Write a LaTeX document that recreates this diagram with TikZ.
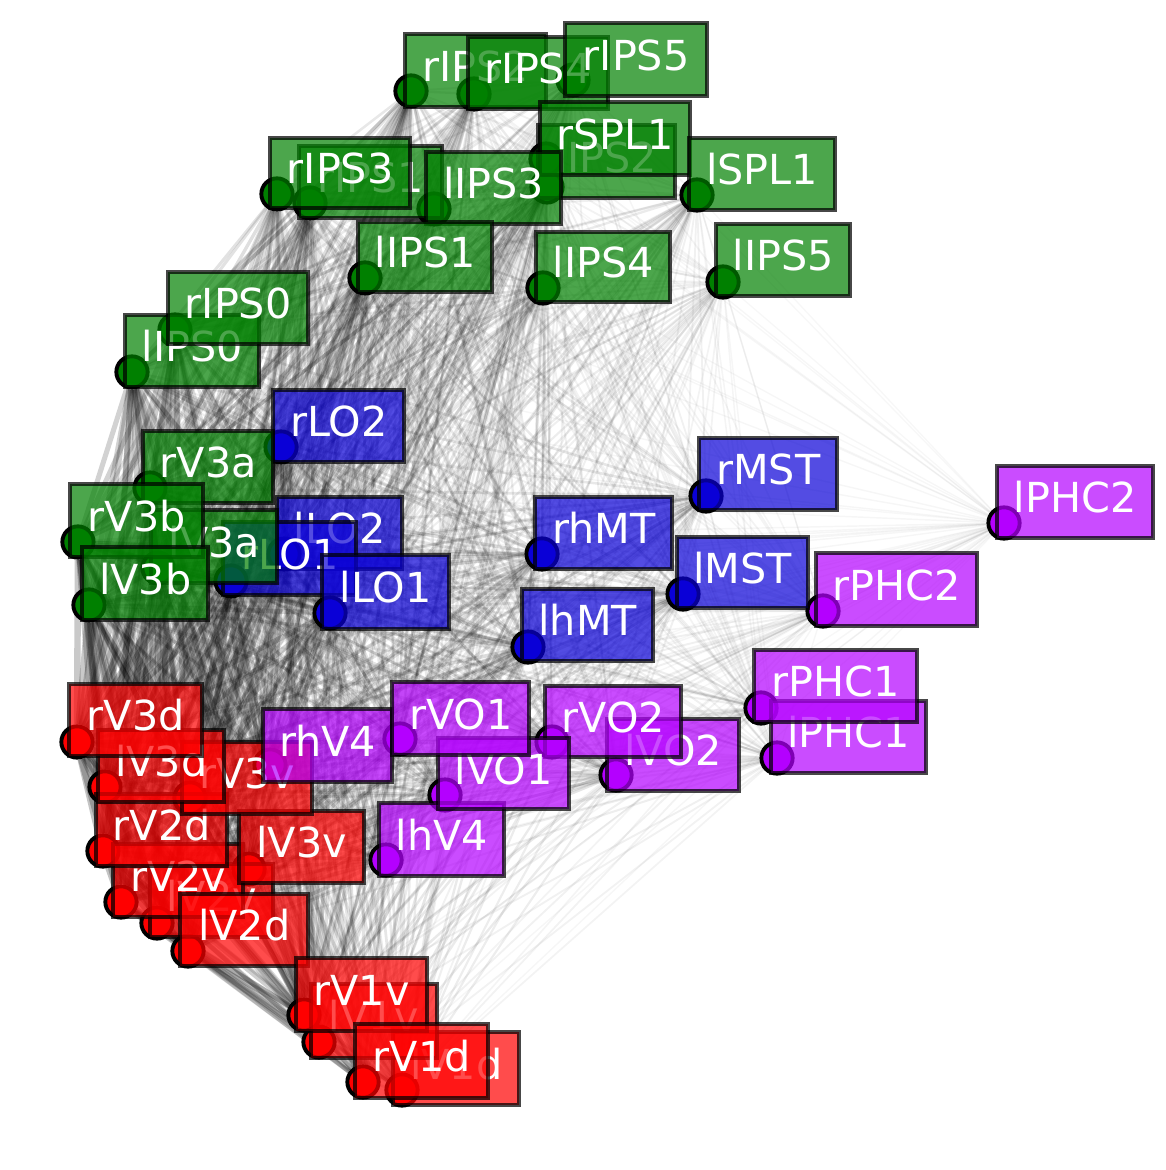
\documentclass[tikz,border=0pt]{standalone}
\usepackage{fontspec}
\setmainfont{DejaVu Sans}
\usepackage{tikz}
\usetikzlibrary{backgrounds}
\definecolor{RoiGreen}{RGB}{0,128,0}
\definecolor{RoiBlue}{RGB}{10,0,215}
\definecolor{RoiPurple}{RGB}{180,0,255}
\definecolor{RoiRed}{RGB}{255,0,0}
% name/colour/box left/box top/box right/box bottom/dot x/dot y, lowest first
\def\roilist{%
rIPS2/RoiGreen/404/33/546/107/411/91,rIPS4/RoiGreen/467/36/608/109/474/94,
rIPS5/RoiGreen/564/22/707/96/573/80,lIPS2/RoiGreen/537/124/675/198/547/187,
rSPL1/RoiGreen/539/101/690/175/546/159,lSPL1/RoiGreen/688/137/835/210/697/195,
rIPS1/RoiGreen/298/145/442/218/310/203,rIPS3/RoiGreen/269/137/410/208/277/194,
lIPS3/RoiGreen/425/151/561/224/434/209,lIPS1/RoiGreen/357/221/492/292/365/278,
lIPS4/RoiGreen/535/231/670/302/543/288,lIPS5/RoiGreen/715/223/850/296/723/282,
lIPS0/RoiGreen/124/314/259/387/132/372,rIPS0/RoiGreen/167/271/308/344/175/330,
lLO2/RoiBlue/276/496/402/569/284/554,rLO2/RoiBlue/272/389/404/462/281/447,
rLO1/RoiBlue/222/521/356/595/231/581,lLO1/RoiBlue/321/554/449/629/330/613,
lV3a/RoiGreen/150/509/277/583/158/568,rV3a/RoiGreen/142/430/273/503/150/488,
rV3b/RoiGreen/69/483/203/557/78/542,lV3b/RoiGreen/81/546/208/620/89/605,
rMST/RoiBlue/698/437/837/510/706/496,rhMT/RoiBlue/534/496/672/569/542/554,
lMST/RoiBlue/676/536/808/608/683/594,lhMT/RoiBlue/521/588/653/661/528/647,
lPHC2/RoiPurple/996/465/1153/538/1004/523,rPHC2/RoiPurple/815/552/977/626/823/611,
lPHC1/RoiPurple/770/700/926/773/777/758,rPHC1/RoiPurple/753/649/917/722/761/708,
lVO2/RoiPurple/606/718/739/791/616/775,rVO2/RoiPurple/544/685/681/757/552/742,
lV2v/RoiRed/149/863/273/937/157/923,rV2v/RoiRed/112/843/243/917/121/902,
rV2d/RoiRed/95/793/227/866/103/851,lV2d/RoiRed/179/893/308/966/188/951,
lV3v/RoiRed/238/810/364/883/249/869,rV3v/RoiRed/181/741/312/814/190/798,
lV3d/RoiRed/97/729/224/802/105/787,rV3d/RoiRed/68/683/202/756/77/742,
rhV4/RoiPurple/262/708/392/782/270/765,lhV4/RoiPurple/378/802/504/876/386/860,
lVO1/RoiPurple/437/737/569/809/445/795,rVO1/RoiPurple/391/681/529/755/400/739,
lV1d/RoiRed/392/1031/519/1105/402/1090,lV1v/RoiRed/310/983/437/1058/319/1042,
rV1v/RoiRed/295/957/427/1031/304/1015,rV1d/RoiRed/354/1023/488/1098/363/1082}
% how strongly each region is tied in
\def\roiweights{%
rIPS2/.75,rIPS4/.65,rIPS5/.55,lIPS2/.75,rSPL1/.6,lSPL1/.55,rIPS1/.82,rIPS3/.72,lIPS3/.68,
lIPS1/.78,lIPS4/.6,lIPS5/.45,lIPS0/.9,rIPS0/.9,lLO2/.9,rLO2/.88,rLO1/.9,lLO1/.88,
lV3a/.95,rV3a/.95,rV3b/.95,lV3b/.95,rMST/.62,rhMT/.72,lMST/.62,lhMT/.72,
lPHC2/.2,rPHC2/.38,lPHC1/.42,rPHC1/.45,lVO2/.62,rVO2/.65,lV2v/1,rV2v/1,rV2d/1,lV2d/1,
lV3v/.95,rV3v/.95,lV3d/1,rV3d/1,rhV4/.8,lhV4/.72,lVO1/.68,rVO1/.7,
lV1d/.72,lV1v/.85,rV1v/.88,rV1d/.8}

\begin{document}
\begin{tikzpicture}[x=0.75pt,y=-0.75pt,
dot/.style={circle,draw=black,fill=#1,line width=2.9pt,minimum size=23.5pt,inner sep=0pt},
roi/.style n args={3}{rectangle,draw=black,draw opacity=0.72,fill=#1,fill opacity=0.7,text=white,text opacity=1,
  line width=2.7pt,inner sep=0pt,minimum width=#2*0.75pt,minimum height=#3*0.75pt,
  font=\fontsize{31}{36}\selectfont,text height=24pt,text depth=7.5pt}]
\useasboundingbox (0,0) rectangle (1166,1170);
\foreach \nm/\clr/\xa/\ya/\xb/\yb/\cx/\cy in \roilist {
   \node[dot=\clr](pt\nm) at(\cx,\cy) {};
}
\begin{scope}[on background layer]
\foreach \p/\wp [count=\i] in \roiweights {
  \foreach \q/\wq [count=\j] in \roiweights {
    \ifnum\j>\i
      \pgfmathsetmacro{\str}{\wp*\wq}
      \pgfmathsetmacro{\wdt}{0.8+1.5*\str+3.2*\str*\str*\str*\str}
      \pgfmathsetmacro{\opa}{0.03+0.2*\str*\str}
      \draw[black,line width=\wdt pt,draw opacity=\opa] (pt\p) -- (pt\q);
    \fi
  }
}
\end{scope}
\foreach \nm/\clr/\xa/\ya/\xb/\yb/\cx/\cy in \roilist {
   \pgfmathsetmacro{\bw}{\xb-\xa-1}
   \pgfmathsetmacro{\bh}{\yb-\ya-1}
   \node[roi={\clr}{\bw}{\bh}](\nm) at({(\xa+\xb)/2+0.7},{(\ya+\yb)/2+0.4}) {\nm};
}
\end{tikzpicture}
\end{document}
